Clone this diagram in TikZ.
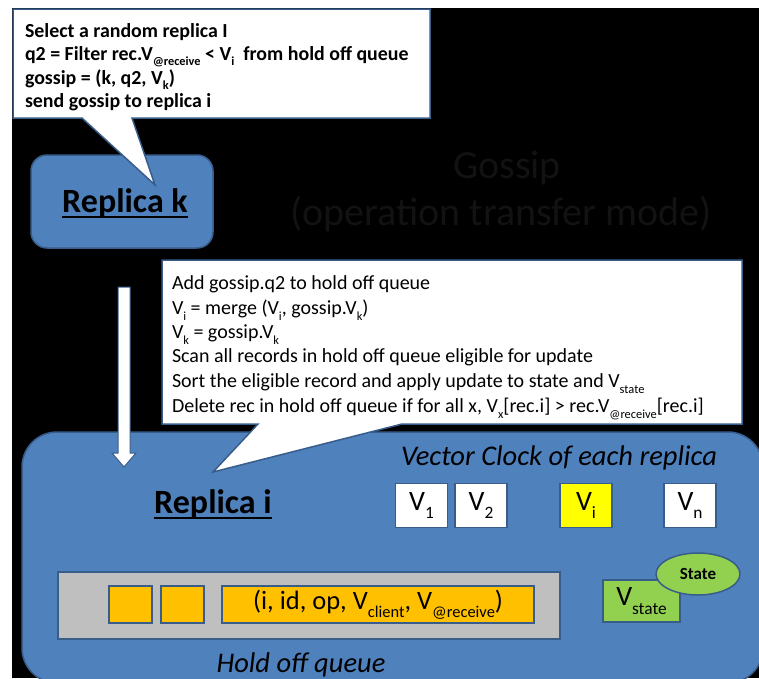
\documentclass[tikz,border=0pt]{standalone}
\usepackage{fontspec}
\setmainfont{Carlito}
\usetikzlibrary{shapes.geometric,calc}

\definecolor{pblue}{HTML}{4F81BD}
\definecolor{pedge}{HTML}{385D8A}
\definecolor{qgray}{HTML}{BFBFBF}
\definecolor{qorange}{HTML}{FFC000}
\definecolor{vyellow}{HTML}{FFFF00}
\definecolor{sgreen}{HTML}{92D050}
\definecolor{ghost}{HTML}{121212}

% lowered, smaller text for subscripts
\newcommand\sbx[1]{\raisebox{-0.3em}{\scalebox{0.62}{#1}}}
\newcommand\fs[1]{\fontsize{#1}{#1}\selectfont}

\begin{document}
\begin{tikzpicture}[x=1pt,y=-1pt,
  every node/.style={inner sep=0pt, outer sep=0pt},
  edgeline/.style={draw=pedge, line width=1.5pt},
  bluebox/.style={fill=pblue, edgeline},
  callout/.style={fill=white, edgeline},
  topline/.style={anchor=base west, font=\bfseries\fs{19.9}},
  noteline/.style={anchor=base west, font=\fs{20}},
  vbox/.style={edgeline, fill=white, minimum width=52pt, minimum height=44pt, font=\fs{28}},
  slot/.style={edgeline, fill=qorange, minimum height=37pt},
  blockarrow/.style={fill=white, draw=pedge, line width=1pt},
  title/.style={anchor=base, font=\fs{40}, text=ghost},
  heading/.style={anchor=base, font=\bfseries\fs{34}},
  caption/.style={anchor=base, font=\itshape\fs{28.5}}
]
\useasboundingbox (0,0) rectangle (759,678);
\fill[white] (0,0) rectangle (759,678);
\fill[black] (12,8) rectangle (759,678);

% faint title on the dark background
\node[title] (title1) at (507,178) {Gossip};
\node[title] (title2) at (501,225) {(operation transfer mode)};

% sending replica
\node[bluebox, rounded corners=16pt, minimum width=182pt, minimum height=93pt] (rk) at (122,201.5) {};
\node[heading] (rklabel) at (125,212) {Replica k};
\draw[line width=2pt] ([yshift=-5pt]rklabel.base west) -- ([yshift=-5pt]rklabel.base east);

% note attached to replica k
\draw[callout] (13,9) -- (430,9) -- (430,118) -- (132,118) -- (155,185) -- (82,118) -- (13,118) -- cycle;
\node[topline] (t1) at (25,37) {Select a random replica I};
\node[topline] (t2) at (25,60) {q2 = Filter rec.V\sbx{@receive} < V\sbx{i}\ \ from hold off queue};
\node[topline] (t3) at (25,84) {gossip = (k, q2, V\sbx{k})};
\node[topline] (t4) at (25,107) {send gossip to replica i};

% receiving replica
\node[bluebox, rounded corners=35pt, minimum width=741pt, minimum height=251pt] (ri) at (392.5,557.5) {};

% note attached to replica i
\draw[callout] (162,260) -- (742,260) -- (742,424) -- (402,424) -- (213,472) -- (258,424) -- (162,424) -- cycle;
\node[noteline] (n1) at (172,289) {Add gossip.q2 to hold off queue};
\node[noteline] (n2) at (172,314) {V\sbx{i} = merge (V\sbx{i}, gossip.V\sbx{k})};
\node[noteline] (n3) at (172,338) {V\sbx{k} = gossip.V\sbx{k}};
\node[noteline] (n4) at (172,362) {Scan all records in hold off queue eligible for update};
\node[noteline] (n5) at (172,387) {Sort the eligible record and apply update to state and V\sbx{state}};
\node[noteline] (n6) at (172,412) {Delete rec in hold off queue if for all x, V\sbx{x}[rec.i] > rec.V\sbx{@receive}[rec.i]};

% gossip transfer arrow
\coordinate (atail) at (124,287);
\coordinate (atip) at (124,467);
\draw[blockarrow] ($(atail)+(-6,0)$) -- ($(atail)+(6,0)$) -- ($(atip)+(6,-14)$) -- ($(atip)+(12,-14)$)
  -- (atip) -- ($(atip)+(-12,-14)$) -- ($(atip)+(-6,-14)$) -- cycle;

% labels inside replica i
\node[caption] (vclabel) at (559,465) {Vector Clock of each replica};
\node[heading] (rilabel) at (213,513) {Replica i};
\draw[line width=2pt] ([yshift=-5pt]rilabel.base west) -- ([yshift=-5pt]rilabel.base east);

% vector clocks
\node[vbox] (v1) at (421.5,505.5) {V\sbx{1}};
\node[vbox] (v2) at (481,505.5) {V\sbx{2}};
\node[vbox, fill=vyellow] (vi) at (586,505.5) {V\sbx{i}};
\node[vbox] (vn) at (690,505.5) {V\sbx{n}};

% hold off queue
\node[edgeline, fill=qgray, minimum width=502pt, minimum height=67pt] (queue) at (309,605.5) {};
\node[slot, minimum width=43pt] (s1) at (130.5,604.5) {};
\node[slot, minimum width=43pt] (s2) at (182.5,604.5) {};
\node[slot, minimum width=312pt, font=\fs{26.5}] (s3) at (378,604.5) {(i, id, op, V\sbx{client}, V\sbx{@receive})};
\node[caption] (hoq) at (301,672) {Hold off queue};

% state
\node[edgeline, fill=sgreen, minimum width=77pt, minimum height=42pt, font=\fs{28}] (vstate) at (641.5,601) {V\sbx{state}};
\node[ellipse, edgeline, fill=sgreen, minimum width=84pt, minimum height=42pt, font=\bfseries\fs{17}] (state) at (698,574) {State};
\end{tikzpicture}
\end{document}
